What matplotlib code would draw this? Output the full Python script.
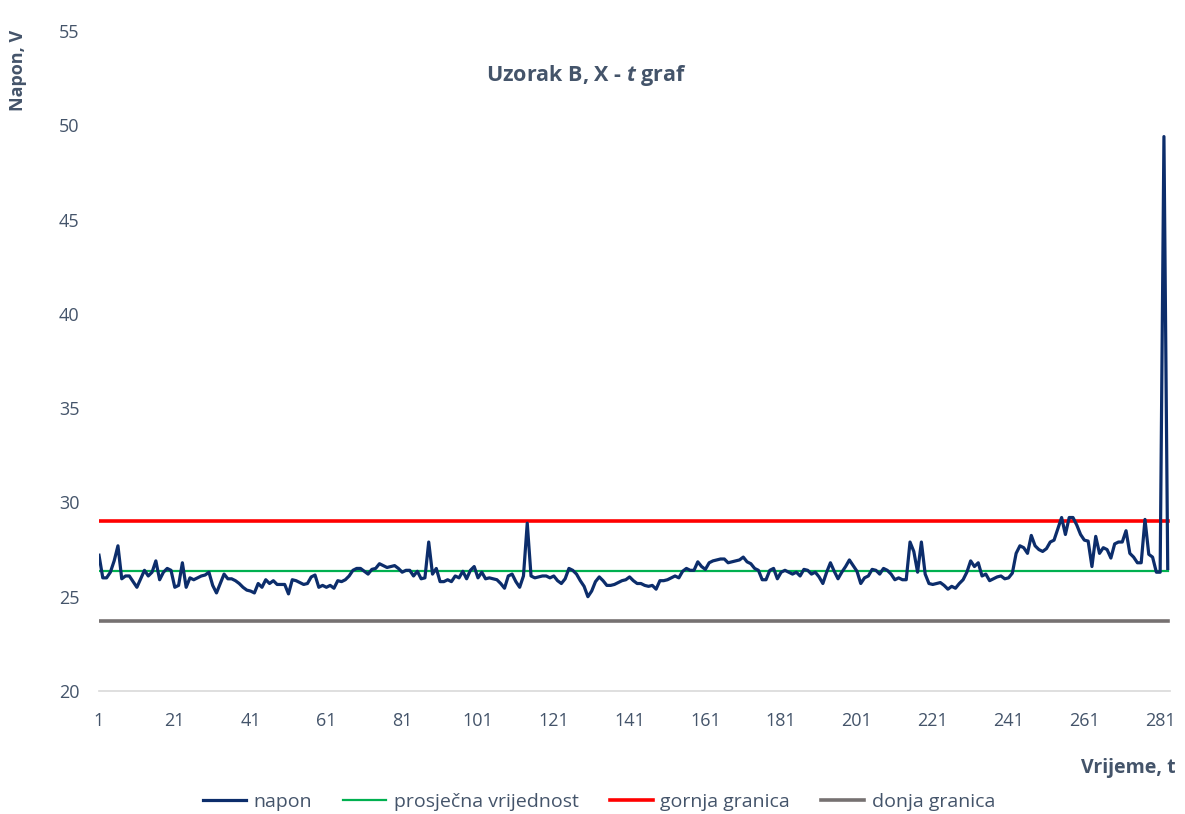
import matplotlib
matplotlib.use("Agg")
from matplotlib import pyplot as plt

plt.rcParams['font.family'] = ['Open Sans', 'DejaVu Sans']
plt.rcParams['mathtext.fontset'] = 'custom'
plt.rcParams['mathtext.it'] = 'Open Sans:italic:bold'
plt.rcParams['mathtext.rm'] = 'Open Sans:bold'

# napon readings (V) per time step t = 1..283
napon = [
    27.2, 26.0, 26.0, 26.3, 26.9, 27.7, 25.95, 26.1, 26.1, 25.8,
    25.5, 25.95, 26.4, 26.1, 26.3, 26.9, 25.9, 26.3, 26.5, 26.4,
    25.5, 25.6, 26.8, 25.5, 26.0, 25.9, 26.0, 26.1, 26.15, 26.3,
    25.6, 25.2, 25.7, 26.2, 25.95, 25.95, 25.85, 25.7, 25.5, 25.35,
    25.3, 25.2, 25.7, 25.5, 25.9, 25.7, 25.85, 25.65, 25.65, 25.65,
    25.15, 25.9, 25.85, 25.75, 25.65, 25.7, 26.05, 26.15, 25.5, 25.6,
    25.5, 25.6, 25.45, 25.85, 25.8, 25.9, 26.1, 26.4, 26.5, 26.5,
    26.35, 26.2, 26.45, 26.5, 26.75, 26.65, 26.55, 26.6, 26.65, 26.5,
    26.3, 26.4, 26.4, 26.1, 26.35, 25.95, 26.0, 27.9, 26.2, 26.5,
    25.8, 25.8, 25.9, 25.8, 26.1, 26.0, 26.35, 25.95, 26.4, 26.6,
    26.0, 26.3, 25.95, 26.0, 25.95, 25.9, 25.7, 25.45, 26.1, 26.2,
    25.8, 25.5, 26.1, 28.9, 26.1, 26.0, 26.05, 26.1, 26.1, 26.0,
    26.1, 25.85, 25.7, 25.95, 26.5, 26.4, 26.2, 25.85, 25.55, 25.0,
    25.3, 25.8, 26.05, 25.85, 25.6, 25.6, 25.65, 25.75, 25.85, 25.9,
    26.05, 25.85, 25.7, 25.7, 25.6, 25.55, 25.6, 25.4, 25.85, 25.85,
    25.9, 26.0, 26.1, 26.0, 26.35, 26.5, 26.4, 26.4, 26.85, 26.6,
    26.45, 26.8, 26.9, 26.95, 27.0, 27.0, 26.8, 26.85, 26.9, 26.95,
    27.1, 26.85, 26.75, 26.5, 26.4, 25.9, 25.9, 26.4, 26.5, 25.95,
    26.3, 26.4, 26.3, 26.2, 26.3, 26.1, 26.45, 26.4, 26.2, 26.3,
    26.05, 25.7, 26.3, 26.8, 26.35, 25.95, 26.3, 26.6, 26.95, 26.65,
    26.35, 25.7, 26.0, 26.1, 26.45, 26.4, 26.2, 26.5, 26.4, 26.2,
    25.9, 26.0, 25.9, 25.9, 27.9, 27.4, 26.3, 27.9, 26.2, 25.7,
    25.65, 25.7, 25.75, 25.6, 25.4, 25.55, 25.45, 25.7, 25.9, 26.3,
    26.9, 26.6, 26.8, 26.1, 26.2, 25.85, 25.95, 26.05, 26.1, 25.95,
    26.0, 26.25, 27.3, 27.7, 27.6, 27.3, 28.25, 27.7, 27.5, 27.4,
    27.55, 27.9, 28.0, 28.6, 29.2, 28.3, 29.2, 29.2, 28.8, 28.3,
    28.0, 27.95, 26.6, 28.2, 27.3, 27.6, 27.5, 27.05, 27.8, 27.9,
    27.9, 28.5, 27.3, 27.1, 26.8, 26.8, 29.1, 27.25, 27.1, 26.3,
    26.3, 49.4, 26.5,
]
prosjek = 26.35
gornja = 29.0
donja = 23.7

t = list(range(1, len(napon) + 1))
tick_pos = list(range(1, 282, 20))

text_col = "#44546A"

fig = plt.figure(figsize=(11.85, 8.14), dpi=100)
ax = fig.add_axes([99 / 1185, 1 - 691 / 814, (1170 - 99) / 1185, (691 - 31) / 814])

ax.plot(t, [donja] * len(t), color="#767171", lw=2.6, label="donja granica", zorder=2)
ax.plot(t, [gornja] * len(t), color="#FF0000", lw=2.6, label="gornja granica", zorder=2)
ax.plot(t, [prosjek] * len(t), color="#00B050", lw=1.6, label="prosječna vrijednost", zorder=3)
ax.plot(t, napon, color="#0C2D6B", lw=2.3, label="napon", zorder=4)

ax.set_xlim(1, 283.6)
ax.set_ylim(20, 55)
ax.set_yticks(range(20, 56, 5))
ax.set_xticks(tick_pos)

for s in ["top", "right", "left"]:
    ax.spines[s].set_visible(False)
ax.spines["bottom"].set_color("#D9D9D9")
ax.spines["bottom"].set_linewidth(1.2)

ax.tick_params(axis="y", length=0, pad=14, labelsize=13, labelcolor=text_col)
ax.tick_params(axis="x", length=0, pad=15, labelsize=13, labelcolor=text_col)

fig.text(586 / 1185, 1 - 75 / 814, r"Uzorak B, X - $\it{t}$ graf", ha="center", va="center",
         fontsize=15.5, fontweight="bold", color=text_col)
fig.text(18 / 1185, 1 - 70 / 814, "Napon, V", rotation=90, ha="center", va="center",
         fontsize=13, fontweight="bold", color=text_col)
fig.text(1128 / 1185, 1 - 768 / 814, "Vrijeme, t", ha="center", va="center",
         fontsize=14, fontweight="bold", color=text_col)

h, l = ax.get_legend_handles_labels()
order = [3, 2, 1, 0]
fig.legend([h[i] for i in order], [l[i] for i in order], loc="center",
           bbox_to_anchor=(599 / 1185, 1 - 802 / 814), ncol=4, frameon=False,
           fontsize=14, labelcolor=text_col, handlelength=2.2, columnspacing=1.6,
           handletextpad=0.4)

fig.savefig("out.png", dpi=100)
